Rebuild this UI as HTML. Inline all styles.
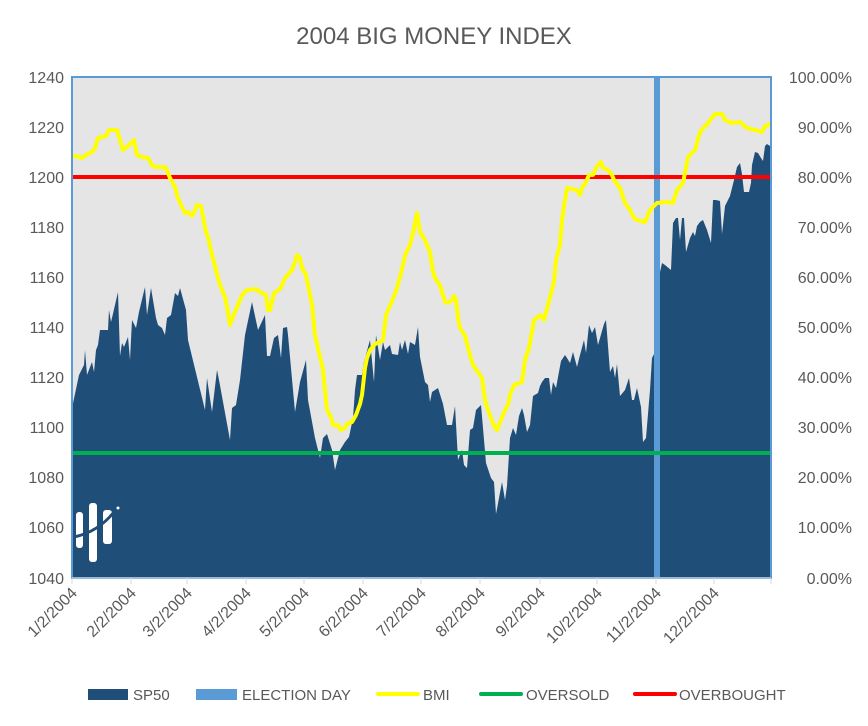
<!DOCTYPE html>
<html><head><meta charset="utf-8"><style>
html,body{margin:0;padding:0;background:#fff;}
svg{display:block;font-family:"Liberation Sans",sans-serif;}
</style></head><body>
<svg width="868" height="726" viewBox="0 0 868 726" xmlns="http://www.w3.org/2000/svg">
<rect width="868" height="726" fill="#fff"/>
<text x="434" y="44" text-anchor="middle" font-size="24" fill="#595959">2004 BIG MONEY INDEX</text>
<rect x="72" y="77" width="699" height="501" fill="#e5e5e5"/>
<polygon fill="#1f4e79" points="72,578 72,408 79,375 84,365 85,350 87,375 92,362 94,372 96,350 98,345 100,330 108,330 109,310 111,322 112,318 118,292 120,356 122,343 124,347 128,337 130,360 132,320 136,328 139,312 145,287 147,315 151,288 156,318 158,325 162,328 165,335 167,318 171,315 175,293 178,296 180,288 186,310 188,340 205,410 207,378 212,412 217,370 219,380 230,440 232,408 236,405 240,380 245,335 252,302 258,330 265,315 267,356 270,356 274,338 278,335 281,358 283,328 287,327 288,335 295,412 300,382 306,360 308,400 315,438 320,458 323,438 327,434 332,450 335,470 340,450 345,442 349,437 353,418 355,390 357,375 362,375 364,362 370,340 374,382 376,335 380,360 383,342 385,350 390,345 392,354 398,355 400,342 402,350 405,340 408,354 410,342 415,345 418,327 420,357 425,382 428,385 430,402 432,392 438,388 443,404 447,425 452,425 455,406 458,460 462,450 464,465 467,468 470,430 473,428 476,410 481,405 486,463 491,478 494,482 496,514 502,482 505,500 507,486 510,438 513,428 516,435 519,416 522,408 524,415 527,432 530,425 533,396 538,393 540,386 542,382 545,378 549,378 551,395 553,382 556,388 561,361 565,355 567,358 570,363 573,352 577,367 580,355 584,340 586,353 589,325 592,333 595,327 598,345 604,324 606,320 610,372 613,366 615,378 617,364 620,396 625,390 629,378 632,400 634,400 637,388 641,407 643,442 646,438 650,390 652,358 655,352 660,352 660,272 662,263 665,265 671,270 673,223 676,218 678,218 680,240 682,218 684,218 686,252 690,238 693,232 695,236 697,226 700,222 703,220 707,230 711,243 713,200 716,200 720,201 722,234 725,206 730,196 734,180 737,167 740,163 742,174 744,192 749,192 751,183 752,165 755,152 758,153 761,158 763,161 765,146 767,144 770,146 771,146 771,578"/>
<rect x="654" y="77" width="6" height="501" fill="#5b9bd5"/>
<line x1="72" y1="177" x2="771" y2="177" stroke="#ff0000" stroke-width="4"/>
<line x1="72" y1="453" x2="771" y2="453" stroke="#00b050" stroke-width="4"/>
<polyline fill="none" stroke="#ffff00" stroke-width="4" stroke-linejoin="round" points="72,156 76,156 82,158 86,155 92,152 95,148 98,138 106,136 109,130 117,130 120,140 123,150 128,146 134,140 137,155 142,157 148,158 152,165 155,167 162,167 166,168 170,178 175,187 177,195 180,203 185,213 188,212 192,216 195,210 197,205 201,206 204,222 206,232 208,237 212,255 214,262 218,278 220,285 225,297 227,307 230,325 234,314 238,305 240,300 242,295 247,290 256,289 260,292 266,295 268,310 270,310 274,293 280,289 282,285 284,280 286,277 292,270 295,262 297,255 300,258 302,268 306,275 309,290 312,305 315,335 318,348 323,370 327,410 331,417 333,425 338,425 341,430 345,428 347,424 352,422 356,415 360,404 362,395 365,368 367,358 370,350 374,345 377,343 380,342 383,340 386,315 392,301 396,291 400,277 403,265 405,255 410,245 413,233 417,213 420,232 425,240 430,252 433,272 436,280 440,285 445,302 448,303 452,300 454,296 456,300 458,318 460,328 465,336 470,355 473,365 475,368 482,378 485,400 488,410 490,415 494,426 497,430 501,420 505,410 508,405 510,395 514,385 522,382 525,360 529,348 534,320 541,315 544,320 548,305 554,282 556,260 560,245 562,220 565,200 567,188 577,190 580,195 582,188 586,182 589,175 593,175 597,166 601,162 603,168 608,170 612,175 614,180 620,188 625,203 630,210 634,218 637,220 645,222 650,210 657,203 667,202 673,203 677,190 683,183 688,157 695,150 700,132 708,123 715,114 722,114 725,120 732,123 740,122 747,128 755,130 762,132 765,126 771,124"/>
<rect x="72" y="77" width="699" height="501" fill="none" stroke="#5b9bd5" stroke-width="2"/>
<rect x="76" y="512" width="7" height="36" rx="3" fill="#fff"/>
<rect x="89" y="503" width="8" height="59" rx="3" fill="#fff"/>
<rect x="103" y="510" width="9" height="34" rx="3" fill="#fff"/>
<path d="M74,537 Q98,532 114,512" fill="none" stroke="#1f4e79" stroke-width="3"/>
<circle cx="118" cy="508" r="1.5" fill="#fff"/>
<line x1="72" y1="578" x2="771" y2="578" stroke="#d9d9d9" stroke-width="1"/>
<g stroke="#d9d9d9" stroke-width="1">
<line x1="72" y1="578" x2="72" y2="584"/><line x1="131" y1="578" x2="131" y2="584"/><line x1="187" y1="578" x2="187" y2="584"/><line x1="246" y1="578" x2="246" y2="584"/><line x1="304" y1="578" x2="304" y2="584"/><line x1="363" y1="578" x2="363" y2="584"/><line x1="421" y1="578" x2="421" y2="584"/><line x1="480" y1="578" x2="480" y2="584"/><line x1="540" y1="578" x2="540" y2="584"/><line x1="597" y1="578" x2="597" y2="584"/><line x1="656" y1="578" x2="656" y2="584"/><line x1="714" y1="578" x2="714" y2="584"/><line x1="771" y1="578" x2="771" y2="584"/>
</g>
<g font-size="16" fill="#595959" text-anchor="end">
<text x="64" y="83">1240</text><text x="64" y="133">1220</text><text x="64" y="183">1200</text><text x="64" y="233">1180</text><text x="64" y="283">1160</text><text x="64" y="333">1140</text><text x="64" y="383">1120</text><text x="64" y="433">1100</text><text x="64" y="483">1080</text><text x="64" y="533">1060</text><text x="64" y="584">1040</text>
</g>
<g font-size="16" fill="#595959" text-anchor="end">
<text x="852" y="83">100.00%</text><text x="852" y="133">90.00%</text><text x="852" y="183">80.00%</text><text x="852" y="233">70.00%</text><text x="852" y="283">60.00%</text><text x="852" y="333">50.00%</text><text x="852" y="383">40.00%</text><text x="852" y="433">30.00%</text><text x="852" y="483">20.00%</text><text x="852" y="533">10.00%</text><text x="852" y="584">0.00%</text>
</g>
<g font-size="16" fill="#595959" text-anchor="end">
<text transform="translate(78,594) rotate(-45)">1/2/2004</text>
<text transform="translate(137,594) rotate(-45)">2/2/2004</text>
<text transform="translate(193,594) rotate(-45)">3/2/2004</text>
<text transform="translate(252,594) rotate(-45)">4/2/2004</text>
<text transform="translate(310,594) rotate(-45)">5/2/2004</text>
<text transform="translate(369,594) rotate(-45)">6/2/2004</text>
<text transform="translate(427,594) rotate(-45)">7/2/2004</text>
<text transform="translate(486,594) rotate(-45)">8/2/2004</text>
<text transform="translate(546,594) rotate(-45)">9/2/2004</text>
<text transform="translate(603,594) rotate(-45)">10/2/2004</text>
<text transform="translate(662,594) rotate(-45)">11/2/2004</text>
<text transform="translate(720,594) rotate(-45)">12/2/2004</text>
</g>
<g font-size="15" fill="#595959">
<rect x="88" y="689" width="40" height="11" fill="#1f4e79"/><text x="133" y="700">SP50</text>
<rect x="196" y="689" width="41" height="11" fill="#5b9bd5"/><text x="242" y="700">ELECTION DAY</text>
<line x1="378" y1="694" x2="418" y2="694" stroke="#ffff00" stroke-width="4" stroke-linecap="round"/><text x="423" y="700">BMI</text>
<line x1="481" y1="694" x2="521" y2="694" stroke="#00b050" stroke-width="4" stroke-linecap="round"/><text x="526" y="700">OVERSOLD</text>
<line x1="635" y1="694" x2="675" y2="694" stroke="#ff0000" stroke-width="4" stroke-linecap="round"/><text x="679" y="700">OVERBOUGHT</text>
</g>
</svg>
</body></html>
